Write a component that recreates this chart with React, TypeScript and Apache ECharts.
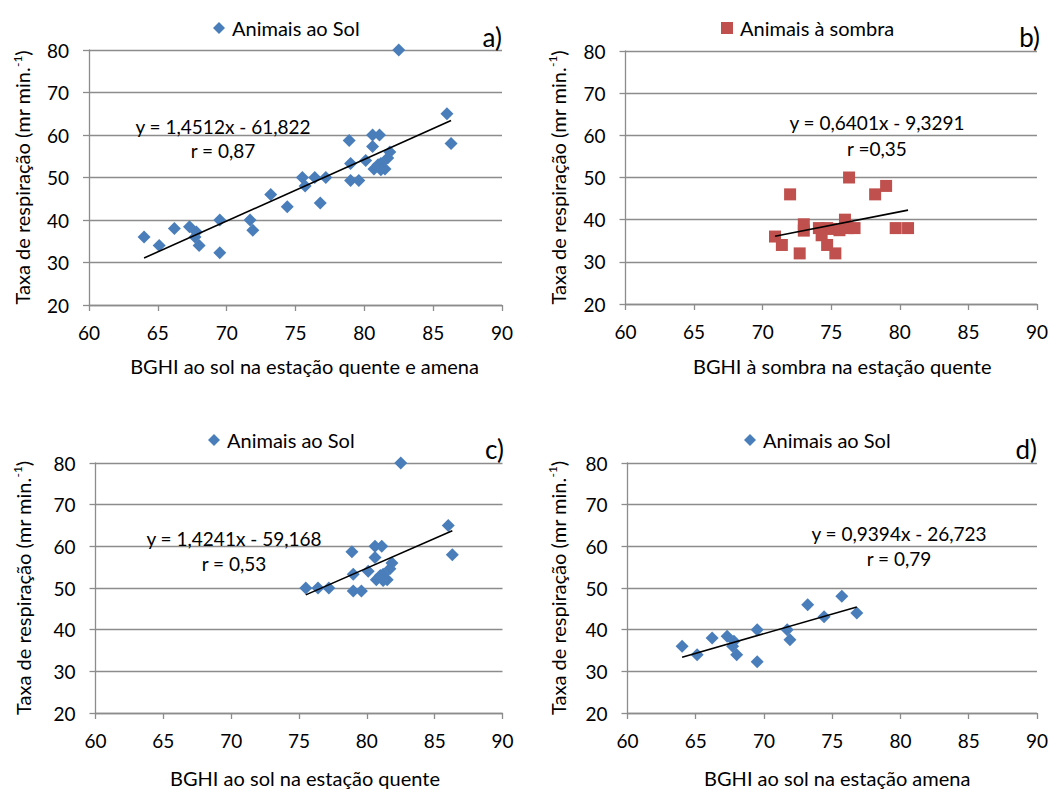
import React, { useEffect, useRef } from "react";
import * as echarts from "echarts";

// BGHI (x) and respiration rate (y) of animals in the sun, hot season
const hotSunX = [75.5, 76.4, 77.2, 78.9, 79.0, 79.0, 79.6, 80.1, 80.6, 81.1, 80.6, 81.85, 81.7, 81.2, 80.7, 81.2, 81.5, 81.0, 82.5, 86.0, 86.3];
const hotSunY = [50.0, 50.0, 50.0, 58.7, 53.3, 49.3, 49.3, 54.0, 60.0, 60.0, 57.3, 56.0, 54.6, 53.3, 52.0, 51.8, 52.0, 53.0, 80.0, 65.0, 58.0];

// Animals in the sun, mild season
const mildSunX = [64.0, 65.1, 66.2, 67.3, 67.8, 67.7, 68.0, 69.5, 69.5, 71.7, 71.9, 73.2, 74.4, 75.7, 76.8];
const mildSunY = [36.0, 34.0, 38.0, 38.4, 37.2, 36.0, 34.0, 40.0, 32.3, 40.0, 37.6, 46.0, 43.1, 48.0, 44.0];

// Animals in the shade, hot season
const shadeX = [70.9, 71.4, 72.0, 72.7, 73.0, 73.0, 74.1, 74.3, 74.7, 74.7, 75.0, 75.3, 75.6, 76.0, 76.3, 76.2, 76.7, 78.2, 79.0, 79.7, 80.6];
const shadeY = [36.0, 34.0, 46.0, 32.0, 38.9, 37.4, 38.0, 36.3, 38.0, 34.0, 37.8, 32.0, 37.5, 40.0, 50.0, 38.0, 38.0, 46.0, 48.0, 38.0, 38.0];

// Fitted lines: [slope, intercept]
const fitAll = [1.4512, -61.822];
const fitShade = [0.6401, -9.3291];
const fitHot = [1.4241, -59.168];
const fitMild = [0.9394, -26.723];

const equationTexts = ["y = 1,4512x - 61,822", "y = 0,6401x - 9,3291", "y = 1,4241x - 59,168", "y = 0,9394x - 26,723"];
const rTexts = ["r = 0,87", "r =0,35", "r = 0,53", "r = 0,79"];
const panelLetters = ["a)", "b)", "c)", "d)"];
const xTitles = [
  "BGHI ao sol na estação quente e amena",
  "BGHI à sombra na estação quente",
  "BGHI ao sol na estação quente",
  "BGHI ao sol na estação amena",
];

const X_MIN = 60, X_MAX = 90, X_STEP = 5;
const Y_MIN = 20, Y_MAX = 80, Y_STEP = 10;

const FONT = "Lato, 'Open Sans', sans-serif";
const BLUE = "#4A7EBB";
const RED = "#C0504D";
const GRAY = "#8C8C8C";

const zip = (xs: number[], ys: number[]) => xs.map((x, i) => [x, ys[i]]);
const fitLine = (xs: number[], fit: number[]) => {
  const lo = Math.min(...xs);
  const hi = Math.max(...xs);
  return [
    [lo, fit[0] * lo + fit[1]],
    [hi, fit[0] * hi + fit[1]],
  ];
};

export default function App() {
  const ref = useRef<HTMLDivElement>(null);

  useEffect(() => {
    if (!ref.current) return;
    const chart = echarts.init(ref.current, undefined, { renderer: "svg" });

    const grids = [
      { left: 89, top: 50, width: 413, height: 255 },
      { left: 625.5, top: 51, width: 413.5, height: 253 },
      { left: 95.5, top: 463, width: 407, height: 253 },
      { left: 627.5, top: 463, width: 411, height: 253 },
    ];
    const xNameGaps = [51, 52, 55, 55];
    // titles sit slightly right of the axis centre
    const xNameShift = [18, 22, 12, 10];
    const yNameGaps = [56, 57, 62, 59];

    const xAxes = grids.map((_, i) => ({
      type: "value",
      gridIndex: i,
      min: X_MIN,
      max: X_MAX,
      interval: X_STEP,
      name: xTitles[i],
      nameLocation: "middle",
      nameGap: xNameGaps[i],
      nameTextStyle: { color: "#000", fontSize: 20, fontFamily: FONT, padding: [0, 0, 0, xNameShift[i]] },
      axisLine: { show: true, lineStyle: { color: GRAY, width: 1.3 } },
      axisTick: { show: true, length: 6, lineStyle: { color: GRAY, width: 1.3 } },
      axisLabel: { color: "#000", fontSize: 19, fontFamily: FONT, margin: 18 },
      splitLine: { show: false },
    }));

    const yAxes = grids.map((_, i) => ({
      type: "value",
      gridIndex: i,
      min: Y_MIN,
      max: Y_MAX,
      interval: Y_STEP,
      name: "{a|Taxa de respiração (mr min.}{s|-1}{a|)}",
      nameLocation: "middle",
      nameGap: yNameGaps[i],
      nameRotate: 90,
      nameTextStyle: {
        color: "#000",
        fontFamily: FONT,
        rich: {
          a: { fontSize: 20, fontFamily: FONT, color: "#000", lineHeight: 22 },
          s: { fontSize: 12, fontFamily: FONT, color: "#000", verticalAlign: "top", lineHeight: 22 },
        },
      },
      axisLine: { show: true, lineStyle: { color: GRAY, width: 1.3 } },
      axisTick: { show: true, length: 6, lineStyle: { color: GRAY, width: 1.3 } },
      axisLabel: { color: "#000", fontSize: 19, fontFamily: FONT, margin: 20 },
      splitLine: { show: true, lineStyle: { color: GRAY, width: 1.3 } },
    }));

    const allX = [...mildSunX, ...hotSunX];
    const allY = [...mildSunY, ...hotSunY];

    const scatter = (name: string, idx: number, data: number[][], symbol: string, color: string) => ({
      name,
      type: "scatter",
      xAxisIndex: idx,
      yAxisIndex: idx,
      data,
      symbol,
      symbolSize: symbol === "diamond" ? 13 : 12,
      itemStyle: { color, opacity: 1 },
      z: 2,
    });
    const trend = (name: string, idx: number, data: number[][]) => ({
      name,
      type: "line",
      xAxisIndex: idx,
      yAxisIndex: idx,
      data,
      showSymbol: false,
      symbol: "none",
      lineStyle: { color: "#000", width: 1.6 },
      z: 3,
    });

    const series = [
      scatter("Animais ao Sol", 0, zip(allX, allY), "diamond", BLUE),
      trend("Linear (Animais ao Sol)", 0, fitLine(allX, fitAll)),
      scatter("Animais à sombra", 1, zip(shadeX, shadeY), "rect", RED),
      trend("Linear (Animais à sombra)", 1, fitLine(shadeX, fitShade)),
      scatter("Animais ao Sol", 2, zip(hotSunX, hotSunY), "diamond", BLUE),
      trend("Linear (quente)", 2, fitLine(hotSunX, fitHot)),
      scatter("Animais ao Sol", 3, zip(mildSunX, mildSunY), "diamond", BLUE),
      trend("Linear (amena)", 3, fitLine(mildSunX, fitMild)),
    ];

    const legendPos = [
      { left: 208, top: 13 },
      { left: 716, top: 13 },
      { left: 203, top: 425 },
      { left: 739, top: 425 },
    ];
    const legendNames = ["Animais ao Sol", "Animais à sombra", "Animais ao Sol", "Animais ao Sol"];
    const legendIcons = ["diamond", "rect", "diamond", "diamond"];
    const legends = legendPos.map((p, i) => ({
      ...p,
      orient: "horizontal",
      selectedMode: false,
      itemWidth: 12,
      itemHeight: 12,
      data: [{ name: legendNames[i], icon: legendIcons[i] }],
      textStyle: { color: "#000", fontSize: 20, fontFamily: FONT, padding: [0, 0, 0, 2] },
    }));

    const eqPos = [
      [223, 126, 150.5],
      [877, 122, 148],
      [234, 538, 563],
      [899, 533, 558],
    ];
    const letterPos = [
      [502, 37],
      [1040, 37],
      [504, 449],
      [1037, 449],
    ];

    const graphics: any[] = [];
    eqPos.forEach(([cx, y1, y2], i) => {
      graphics.push({
        type: "text",
        x: cx,
        y: y1,
        style: { text: equationTexts[i], fill: "#000", fontSize: 19, fontFamily: FONT, align: "center", verticalAlign: "middle" },
        z: 10,
      });
      graphics.push({
        type: "text",
        x: cx,
        y: y2,
        style: { text: rTexts[i], fill: "#000", fontSize: 19, fontFamily: FONT, align: "center", verticalAlign: "middle" },
        z: 10,
      });
    });
    letterPos.forEach(([x, y], i) => {
      graphics.push({
        type: "text",
        x,
        y,
        style: { text: panelLetters[i], fill: "#000", fontSize: 26, fontFamily: FONT, align: "right", verticalAlign: "middle" },
        z: 10,
      });
    });

    chart.setOption({
      animation: false,
      backgroundColor: "#fff",
      grid: grids,
      xAxis: xAxes,
      yAxis: yAxes,
      legend: legends,
      series,
      graphic: graphics,
    });

    return () => chart.dispose();
  }, []);

  return (
    <div
      ref={ref}
      style={{ position: "fixed", left: 0, top: 0, width: 1051, height: 789, background: "#fff" }}
    />
  );
}
